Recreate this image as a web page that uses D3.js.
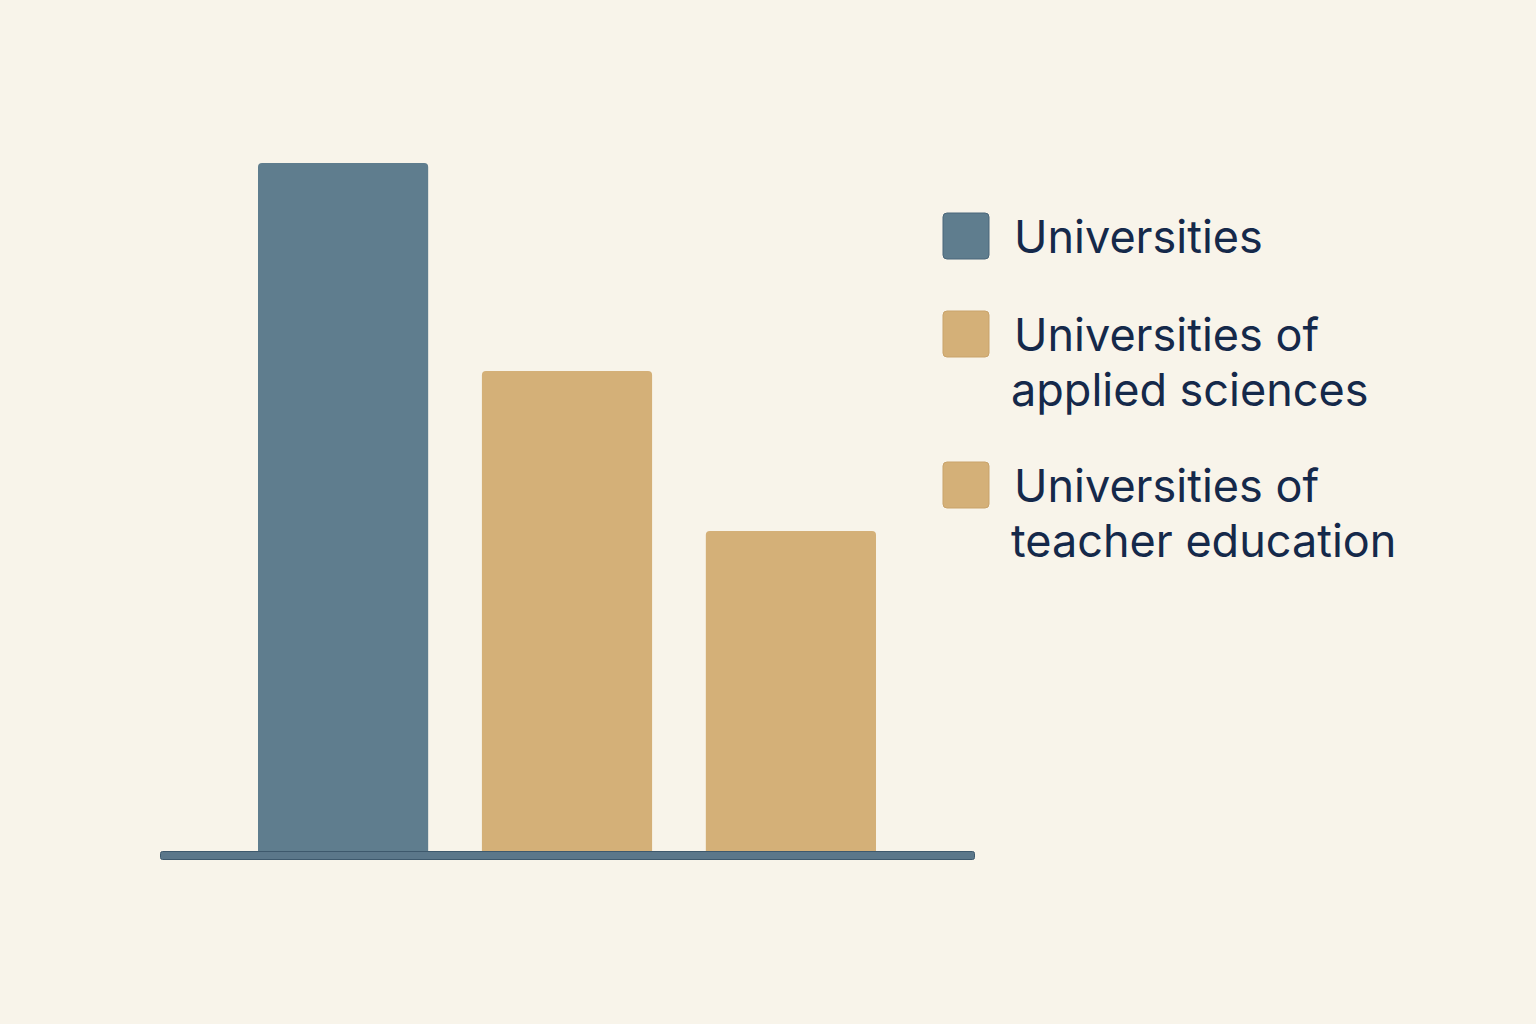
<!DOCTYPE html>
<html>
<head>
<meta charset="utf-8">
<script src="https://cdn.jsdelivr.net/npm/d3@7"></script>
<style>
  html, body { margin: 0; padding: 0; background: #f8f4ea; }
  #chart { width: 1536px; height: 1024px; }
</style>
</head>
<body>
<div id="chart"></div>
<script>
// Data (no axis shown, relative heights only)
const categories = ["Universities", "Universities of applied sciences", "Universities of teacher education"];
const values = [43, 30, 20];
const legendLines = [["Universities"], ["Universities of", "applied sciences"], ["Universities of", "teacher education"]];

const colors = ["#5f7d8e", "#d4b078", "#d4b078"];
const strokes = ["#4b677a", "#c9a36a", "#c9a36a"];

const width = 1536, height = 1024;

const svg = d3.select("#chart")
    .append("svg")
    .attr("width", width)
    .attr("height", height);

svg.append("rect")
    .attr("width", width)
    .attr("height", height)
    .attr("fill", "#f8f4ea");

// Scales
const x = d3.scaleBand()
    .domain(categories)
    .range([258, 876])
    .paddingInner(0.24)
    .paddingOuter(0);

const y = d3.scaleLinear()
    .domain([0, d3.max(values)])
    .range([851, 163]);

// Bars (rounded tops, bottoms tucked under the baseline)
svg.selectAll(".bar")
    .data(categories)
    .enter().append("rect")
    .attr("class", "bar")
    .attr("x", d => x(d))
    .attr("y", (d, i) => y(values[i]))
    .attr("width", x.bandwidth())
    .attr("height", (d, i) => y(0) - y(values[i]) + 6)
    .attr("rx", 4)
    .attr("fill", (d, i) => colors[i]);

// Baseline
svg.append("rect")
    .attr("x", 160.5)
    .attr("y", y(0) + 0.5)
    .attr("width", 814)
    .attr("height", 8)
    .attr("rx", 2)
    .attr("fill", "#5b778a")
    .attr("stroke", "#3e596d")
    .attr("stroke-width", 1);

// Legend
const legendTops = [213, 311, 462];
const legend = svg.append("g");

categories.forEach((c, i) => {
    const g = legend.append("g")
        .attr("transform", `translate(943,${legendTops[i]})`);

    g.append("rect")
        .attr("width", 46)
        .attr("height", 46)
        .attr("rx", 4)
        .attr("fill", colors[i])
        .attr("stroke", strokes[i])
        .attr("stroke-width", 1);

    const text = g.append("text")
        .attr("x", 71)
        .attr("y", 40)
        .attr("fill", "#15294a")
        .style("font-family", "Inter, 'Noto Sans', sans-serif")
        .style("font-size", "45px")
        .style("font-weight", 400);

    legendLines[i].forEach((line, j) => {
        text.append("tspan")
            .attr("x", j === 0 ? 71 : 68)
            .attr("dy", j === 0 ? 0 : 55)
            .text(line);
    });
});
</script>
</body>
</html>
